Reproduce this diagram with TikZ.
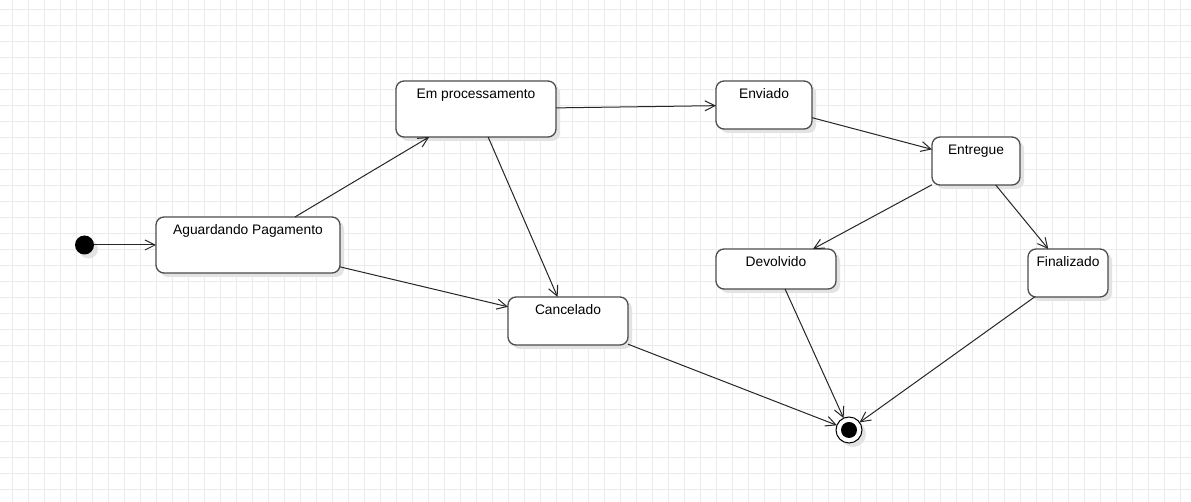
\documentclass[tikz,border=0pt]{standalone}
\usepackage{fontspec}
\setmainfont{Liberation Sans}
\usepackage{tikz}
\usetikzlibrary{arrows.meta,positioning,shadows}

\begin{document}
\begin{tikzpicture}[x=1pt, y=-1pt, >={Straight Barb[length=10pt,width=10pt]}, font=\fontsize{13.8}{16}\selectfont]
            \tikzstyle{sombra} = [drop shadow={shadow xshift=4pt, shadow yshift=-4pt, fill=black!11, opacity=1}]
            \tikzstyle{state} = [draw=black!70, rectangle, rounded corners=8pt, fill=white, line width=1.3pt, inner sep=0pt, outer sep=0pt, text height=17.5pt, sombra]
            \tikzstyle{link} = [->, line width=1pt, black!85]

            \useasboundingbox (0,0) rectangle (1191,502);
            \fill[white] (0,0) rectangle (1191,502);
            \foreach \gx in {0,...,73} \draw[black!8, line width=1pt] ({12.3+16*\gx},0) -- ({12.3+16*\gx},502);
            \foreach \gy in {0,...,30} \draw[black!8, line width=1pt] (0,{9.3+16*\gy}) -- (1191,{9.3+16*\gy});

            \node [circle, fill=black, minimum size=19pt, inner sep=0pt, outer sep=0pt, sombra] (inicio) at (84.5,245) {};
            \node [state, minimum width=184pt, text depth=38.5pt, right = 62pt of inicio] (aguardando) {Aguardando Pagamento};
            \node [state, minimum width=160pt, text depth=38.5pt, above right = 80pt and 56pt of aguardando] (processamento) {Em processamento};
            \node [state, minimum width=96pt, text depth=30.5pt, right = 160pt of processamento, yshift=4pt] (enviado) {Enviado};
            \node [state, minimum width=88pt, text depth=30.5pt, below right = 8pt and 120pt of enviado] (entregue) {Entregue};
            \node [state, minimum width=120pt, text depth=22.5pt, below left = 64pt and 96pt of entregue] (devolvido) {Devolvido};
            \node [state, minimum width=80pt, text depth=30.5pt, below right = 64pt and 8pt of entregue] (finalizado) {Finalizado};
            \node [state, minimum width=120pt, text depth=30.5pt, below right = 24pt and 168pt of aguardando] (cancelado) {Cancelado};
            \node [circle, draw=black, fill=white, line width=1pt, minimum size=26pt, inner sep=0pt, outer sep=0pt, sombra, below right = 131.8pt and 3.8pt of devolvido] (fim) {};
            \fill (fim.center) circle (8pt);

            \draw [link] (inicio) -- (aguardando);
            \draw [link] (aguardando) -- (processamento);
            \draw [link] (aguardando) -- (cancelado);
            \draw [link] (processamento) -- (cancelado);
            \draw [link] (processamento) -- (enviado);
            \draw [link] (enviado) -- (entregue);
            \draw [link] (entregue) -- (devolvido);
            \draw [link] (entregue) -- (finalizado);
            \draw [link] (devolvido) -- (fim);
            \draw [link] (finalizado) -- (fim);
            \draw [link] (cancelado) -- (fim);
\end{tikzpicture}
\end{document}
